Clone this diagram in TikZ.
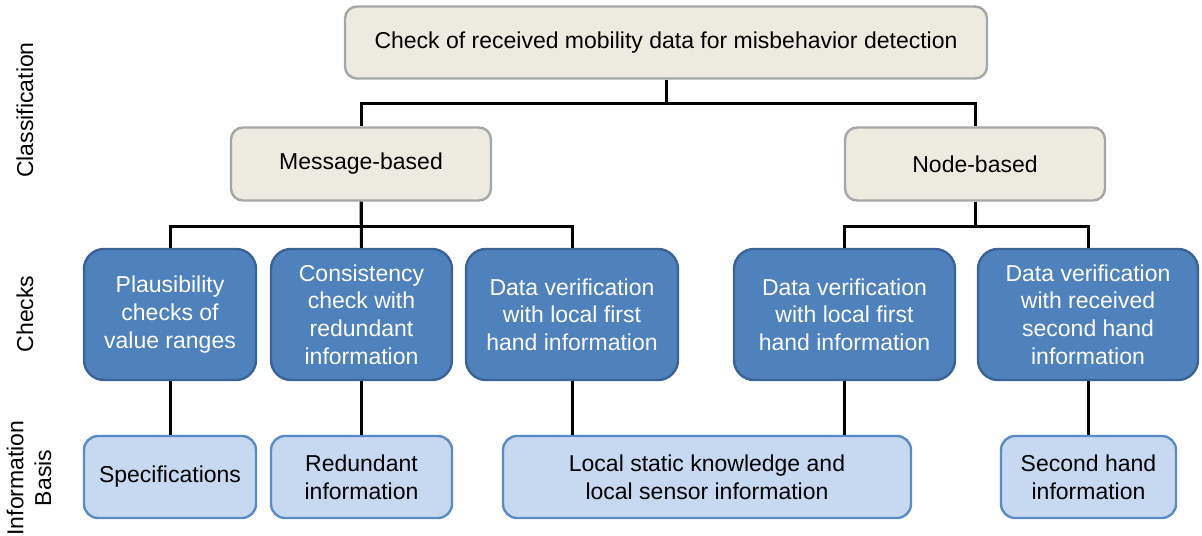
\documentclass[tikz,border=0pt]{standalone}
\usepackage{fontspec}
\setmainfont{Liberation Sans}
\definecolor{beigefill}{HTML}{EDEBE0}
\definecolor{beigeline}{HTML}{A6A6A6}
\definecolor{checkfill}{HTML}{4F81BD}
\definecolor{checkline}{HTML}{3B6496}
\definecolor{infofill}{HTML}{C6D9F1}
\definecolor{infoline}{HTML}{5B8BC5}
\tikzset{
  base/.style={rectangle, align=center, inner sep=2pt, font=\fontsize{11.5}{13.8}\selectfont},
  classbox/.style={base, fill=beigefill, draw=beigeline, line width=1.2pt, rounded corners=6pt, text=black},
  checkbox/.style={base, fill=checkfill, draw=checkline, line width=1.2pt, rounded corners=10pt, text=white, minimum height=65.5pt},
  infobox/.style={base, fill=infofill, draw=infoline, line width=1.2pt, rounded corners=7pt, text=black, minimum height=41pt},
  link/.style={draw=black, line width=1.5pt},
  rowlabel/.style={rotate=90, align=center, font=\fontsize{11.5}{13.8}\selectfont}
}
\begin{document}
\begin{tikzpicture}[x=0.5pt, y=-0.5pt]
\useasboundingbox (0,0) rectangle (1202,535);

% classification level
\node[classbox, minimum width=321pt, minimum height=36pt] (top) at (666,42.5)
  {Check of received mobility data for misbehavior detection};
\node[classbox, minimum width=130pt, minimum height=36.5pt] (msg) at (361,164) {Message-based};
\node[classbox, minimum width=130pt, minimum height=36.5pt] (nod) at (975,164) {Node-based};

% checks
\node[checkbox, minimum width=86pt] (c1) at (170,314.5) {Plausibility\\checks of\\value ranges};
\node[checkbox, minimum width=90.5pt] (c2) at (361.5,314.5) {Consistency\\check with\\redundant\\information};
\node[checkbox, minimum width=106pt] (c3) at (572,314.5) {Data verification\\with local first\\hand information};
\node[checkbox, minimum width=110.5pt] (c4) at (844.5,314.5) {Data verification\\with local first\\hand information};
\node[checkbox, minimum width=110pt] (c5) at (1088,314.5) {Data verification\\with received\\second hand\\information};

% information basis
\node[infobox, minimum width=86pt] (i1) at (170,477) {Specifications};
\node[infobox, minimum width=90.5pt] (i2) at (361.5,477) {Redundant\\information};
\node[infobox, minimum width=204pt] (i3) at (707,477) {Local static knowledge and\\local sensor information};
\node[infobox, minimum width=87.5pt] (i4) at (1088.5,477) {Second hand\\information};

% row labels
\node[rowlabel] (lclass) at (25,110) {Classification};
\node[rowlabel] (lcheck) at (25,314) {Checks};
\node[rowlabel] (linfo) at (29,478) {Information\\Basis};

% tree connectors
\draw[link] (top.south) -- ++(0,24) -| (msg.north);
\draw[link] (top.south) -- ++(0,24) -| (nod.north);
\draw[link] (msg.south) -- ++(0,25) -| (c1.north);
\draw[link] (msg.south) -- ++(0,25) -| (c3.north);
\draw[link] (msg.south) -- (c2.north);
\draw[link] (nod.south) -- ++(0,25) -| (c4.north);
\draw[link] (nod.south) -- ++(0,25) -| (c5.north);

% checks to information basis
\draw[link] (c1.south) -- (i1.north);
\draw[link] (c2.south) -- (i2.north);
\draw[link] (c3.south) -- (c3.south |- i3.north);
\draw[link] (c4.south) -- (c4.south |- i3.north);
\draw[link] (c5.south) -- (c5.south |- i4.north);
\end{tikzpicture}
\end{document}
